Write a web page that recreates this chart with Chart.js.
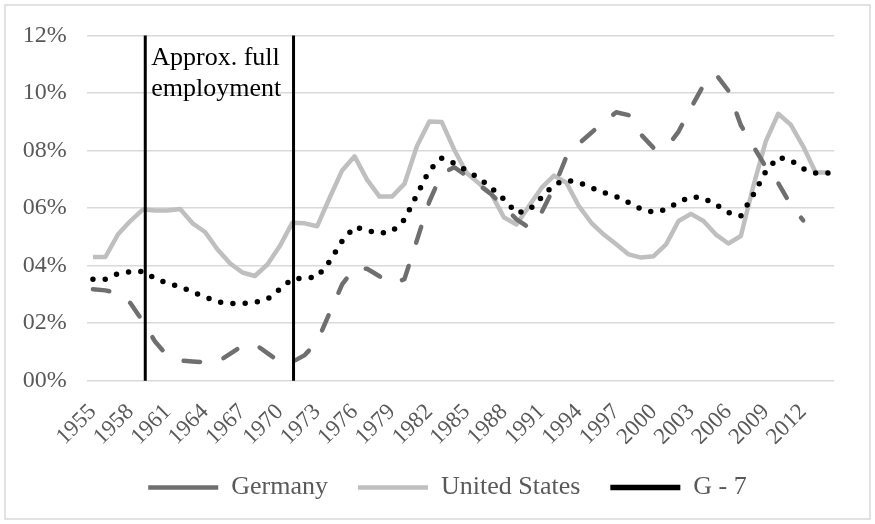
<!DOCTYPE html>
<html>
<head>
<meta charset="utf-8">
<title>Unemployment: Germany, United States, G-7</title>
<script src="https://cdn.jsdelivr.net/npm/chart.js@4.4.1/dist/chart.umd.min.js"></script>
<style>
    html, body { margin: 0; padding: 0; background: #fff; }
    #wrap { width: 875px; height: 524px; }
</style>
</head>
<body>
<div id="wrap"><canvas id="chart" width="875" height="524"></canvas></div>
<script>
// Categories (one per year)
const years = [
    1955, 1956, 1957, 1958, 1959, 1960, 1961, 1962, 1963, 1964,
    1965, 1966, 1967, 1968, 1969, 1970, 1971, 1972, 1973, 1974,
    1975, 1976, 1977, 1978, 1979, 1980, 1981, 1982, 1983, 1984,
    1985, 1986, 1987, 1988, 1989, 1990, 1991, 1992, 1993, 1994,
    1995, 1996, 1997, 1998, 1999, 2000, 2001, 2002, 2003, 2004,
    2005, 2006, 2007, 2008, 2009, 2010, 2011, 2012, 2013, 2014
];

// Unemployment rate, percent
const germany = [
    3.18, 3.14, 3.05, 2.70, 2.07, 1.35, 0.86, 0.70, 0.67, 0.64,
    0.65, 0.93, 1.21, 1.27, 0.96, 0.66, 0.65, 0.89, 1.36, 2.36,
    3.35, 3.92, 3.89, 3.63, 3.37, 3.53, 4.88, 6.23, 7.20, 7.42,
    7.12, 6.80, 6.47, 6.04, 5.61, 5.32, 5.85, 6.71, 7.79, 8.24,
    8.62, 9.00, 9.33, 9.23, 8.55, 8.09, 8.09, 8.66, 9.49, 10.27,
    10.65, 10.08, 8.88, 8.15, 7.43, 6.87, 6.12, 5.57, null, null
];
const unitedStates = [
    4.30, 4.30, 5.08, 5.55, 5.95, 5.92, 5.92, 5.97, 5.47, 5.17,
    4.56, 4.08, 3.76, 3.64, 4.04, 4.68, 5.49, 5.47, 5.37, 6.36,
    7.31, 7.80, 6.99, 6.40, 6.40, 6.84, 8.15, 9.01, 8.99, 8.03,
    7.22, 6.85, 6.47, 5.67, 5.43, 6.07, 6.70, 7.13, 6.88, 6.07,
    5.49, 5.08, 4.74, 4.39, 4.28, 4.33, 4.74, 5.55, 5.80, 5.55,
    5.08, 4.77, 5.03, 6.76, 8.32, 9.28, 8.90, 8.15, 7.24, 7.24
];
const g7 = [
    3.53, 3.53, 3.72, 3.79, 3.80, 3.55, 3.38, 3.27, 3.08, 2.91,
    2.74, 2.69, 2.68, 2.72, 2.83, 3.18, 3.54, 3.56, 3.61, 4.15,
    4.85, 5.35, 5.22, 5.12, 5.19, 5.60, 6.46, 7.31, 7.74, 7.56,
    7.30, 7.04, 6.69, 6.30, 5.83, 5.93, 6.37, 6.82, 6.97, 6.89,
    6.71, 6.54, 6.40, 6.19, 5.97, 5.85, 5.95, 6.21, 6.40, 6.35,
    6.12, 5.85, 5.73, 6.47, 7.27, 7.77, 7.66, 7.37, 7.22, 7.22
];

// Y axis ticks (percent) and x label spacing
const yTicks = [0, 2, 4, 6, 8, 10, 12];
const xLabelEvery = 3;

// Period marked by the two vertical lines (fractional years)
const fullEmployment = [1959.2, 1971.1];
const fullEmploymentNote = ['Approx. full', 'employment'];

const serif = '"Liberation Serif", "Times New Roman", serif';

// White background + light frame round the whole chart
const framePlugin = {
    id: 'frame',
    beforeDraw(chart) {
        const ctx = chart.ctx;
        ctx.save();
        ctx.fillStyle = '#fff';
        ctx.fillRect(0, 0, chart.width, chart.height);
        ctx.strokeStyle = '#d9d9d9';
        ctx.lineWidth = 1.5;
        ctx.strokeRect(5, 5, chart.width - 10, chart.height - 10);
        ctx.restore();
    }
};

// Legend sits a bit right of the canvas centre
const legendShift = {
    id: 'legendShift',
    afterLayout(chart) {
        chart.legend.left += 19;
        chart.legend.right += 19;
    }
};

// Vertical lines and their note
const fullEmploymentPlugin = {
    id: 'fullEmployment',
    afterDatasetsDraw(chart) {
        const { ctx, chartArea, scales } = chart;
        const x = scales.x;
        ctx.save();
        ctx.strokeStyle = '#000';
        ctx.lineWidth = 3;
        fullEmployment.forEach(function(yr) {
            const px = x.getPixelForValue(yr - years[0]);
            ctx.beginPath();
            ctx.moveTo(px, chartArea.top);
            ctx.lineTo(px, chartArea.bottom);
            ctx.stroke();
        });
        const left = x.getPixelForValue(fullEmployment[0] - years[0]);
        ctx.fillStyle = '#000';
        ctx.font = '26px ' + serif;
        ctx.textAlign = 'left';
        ctx.textBaseline = 'alphabetic';
        fullEmploymentNote.forEach(function(line, i) {
            ctx.fillText(line, left + 6, chartArea.top + 29 + i * 31);
        });
        ctx.restore();
    }
};

const ctx = document.getElementById('chart').getContext('2d');
new Chart(ctx, {
    type: 'line',
    data: {
        labels: years,
        datasets: [{
            label: 'Germany',
            data: germany,
            borderColor: '#6f6f6f',
            backgroundColor: '#6f6f6f',
            borderWidth: 4.5,
            borderDash: [16.5, 24.5],
            borderCapStyle: 'round',
            borderJoinStyle: 'round',
            pointRadius: 0,
            order: 1
        }, {
            label: 'United States',
            data: unitedStates,
            borderColor: '#bfbfbf',
            backgroundColor: '#bfbfbf',
            borderWidth: 4.5,
            borderJoinStyle: 'round',
            pointRadius: 0,
            order: 2
        }, {
            label: 'G - 7',
            data: g7,
            borderColor: '#000',
            backgroundColor: '#000',
            borderWidth: 5.5,
            borderDash: [0, 12.3],
            borderCapStyle: 'round',
            borderJoinStyle: 'round',
            pointRadius: 0,
            order: 0
        }]
    },
    options: {
        responsive: false,
        animation: false,
        devicePixelRatio: 1,
        layout: {
            padding: { left: 22.7, right: 40.7, top: 35.5, bottom: 13.5 }
        },
        plugins: {
            legend: {
                position: 'bottom',
                labels: {
                    usePointStyle: true,
                    pointStyle: 'line',
                    pointStyleWidth: 70,
                    padding: 30,
                    color: '#595959',
                    font: { family: serif, size: 26 },
                    sort: (a, b) => a.datasetIndex - b.datasetIndex
                }
            },
            tooltip: { enabled: false }
        },
        scales: {
            x: {
                offset: true,
                grid: { display: false, drawTicks: false },
                border: { display: false },
                afterFit: function(scale) { scale.height = 63.8; },
                ticks: {
                    autoSkip: false,
                    minRotation: 45,
                    maxRotation: 45,
                    padding: 18,
                    color: '#595959',
                    font: { family: serif, size: 23 },
                    callback: function(val, i) {
                        return i % xLabelEvery === 0 ? String(years[i]) : null;
                    }
                }
            },
            y: {
                min: yTicks[0],
                max: yTicks[yTicks.length - 1],
                afterFit: function(scale) { scale.width = 64; },
                afterBuildTicks: function(scale) {
                    scale.ticks = yTicks.map(v => ({ value: v }));
                },
                grid: { color: '#d9d9d9', lineWidth: 1.5, drawTicks: false },
                border: { display: false },
                ticks: {
                    padding: 20,
                    color: '#595959',
                    font: { family: serif, size: 24 },
                    callback: v => String(v).padStart(2, '0') + '%'
                }
            }
        }
    },
    plugins: [framePlugin, legendShift, fullEmploymentPlugin]
});
</script>
</body>
</html>
